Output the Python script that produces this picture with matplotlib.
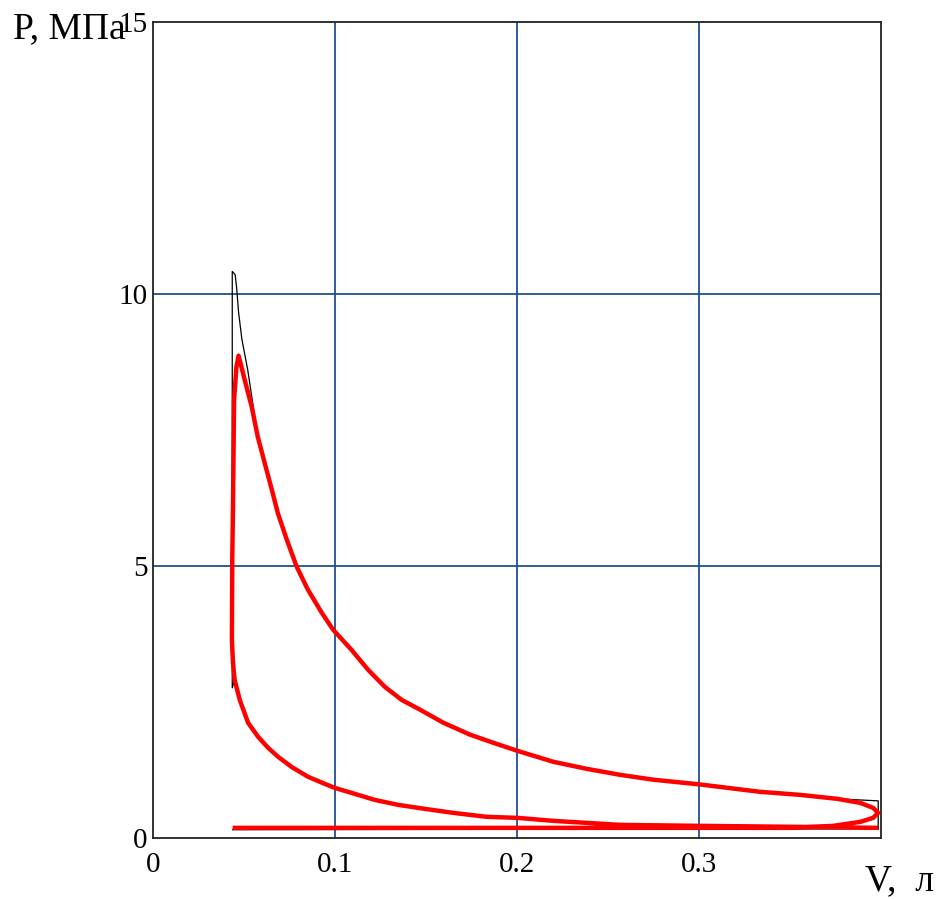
import matplotlib
matplotlib.use("Agg")
import matplotlib.pyplot as plt
import numpy as np

# compression stroke, read right to left (V in litres, P in MPa)
comp_v = [0.3557, 0.3007, 0.2567, 0.2384, 0.2200, 0.2004, 0.1834, 0.1650,
          0.1494, 0.1348, 0.1219, 0.1091, 0.0999, 0.0944, 0.0853, 0.0761,
          0.0688, 0.0633, 0.0578, 0.0523, 0.0477, 0.0449]
comp_p = [0.202, 0.221, 0.239, 0.276, 0.313, 0.368, 0.387, 0.460,
          0.534, 0.607, 0.699, 0.828, 0.920, 0.994, 1.123, 1.307,
          1.491, 1.657, 1.859, 2.117, 2.540, 2.908]

# expansion stroke, left to right
exp_v = [0.0576, 0.0614, 0.0653, 0.0686, 0.0735, 0.0790, 0.0851, 0.0928,
         0.0990, 0.1091, 0.1183, 0.1274, 0.1366, 0.1467, 0.1595, 0.1742,
         0.1870, 0.2004, 0.2200, 0.2384, 0.2567, 0.2750, 0.3000, 0.3337,
         0.3557, 0.3761]
exp_p = [7.38, 6.90, 6.41, 5.98, 5.49, 4.99, 4.57, 4.14,
         3.83, 3.46, 3.09, 2.78, 2.54, 2.36, 2.12, 1.90,
         1.75, 1.60, 1.40, 1.27, 1.16, 1.07, 0.985, 0.847,
         0.791, 0.718]

# measured cycle: combustion peak and rounded exhaust opening
ind_start = [(0.3986, 0.184)]
ind_peak = [(0.0440, 3.221), (0.0434, 3.644), (0.0436, 5.12), (0.0440, 6.09),
            (0.0446, 8.06), (0.0459, 8.67), (0.0471, 8.87), (0.0504, 8.43),
            (0.0543, 7.93)]
ind_tail = [(0.3887, 0.644), (0.3958, 0.552), (0.3986, 0.460), (0.3958, 0.368),
            (0.3887, 0.294), (0.3739, 0.221), (0.3518, 0.184), (0.0438, 0.184)]

# calculated cycle: constant-volume combustion, sharp exhaust step
calc_start = [(0.3986, 0.166)]
calc_peak = [(0.0436, 2.76), (0.0436, 10.42), (0.0452, 10.36), (0.0460, 10.12),
             (0.0471, 9.66), (0.0489, 9.17), (0.0521, 8.61)]
calc_tail = [(0.3986, 0.681), (0.3986, 0.166), (0.0438, 0.150)]


def build(start, peak, tail):
    pts = list(start) + list(zip(comp_v, comp_p)) + list(peak) \
        + list(zip(exp_v, exp_p)) + list(tail)
    arr = np.array(pts)
    return arr[:, 0], arr[:, 1]


plt.rcParams["font.family"] = ["Liberation Serif", "DejaVu Serif"]

fig = plt.figure(figsize=(9.44, 8.99), dpi=100)
ax = fig.add_axes([0.162, 0.068, 0.771, 0.907])

cv, cp = build(calc_start, calc_peak, calc_tail)
iv, ip = build(ind_start, ind_peak, ind_tail)
ax.plot(cv, cp, color="black", linewidth=0.9, zorder=3)
ax.plot(iv, ip, color="#ff0000", linewidth=3.2, zorder=4,
        solid_joinstyle="round", solid_capstyle="butt")

ax.set_xlim(0, 0.4)
ax.set_ylim(0, 15)
ax.set_xticks([0, 0.1, 0.2, 0.3])
ax.set_xticklabels(["0", "0.1", "0.2", "0.3"])
ax.set_yticks([0, 5, 10, 15])
ax.set_yticklabels(["0", "5", "10", "15"])
ax.tick_params(length=0, labelsize=21)
ax.tick_params(axis="y", pad=4)
ax.tick_params(axis="x", pad=10)

for x in (0.1, 0.2, 0.3):
    ax.axvline(x, color="#1c5094", linewidth=1.3, zorder=1)
for y in (5, 10):
    ax.axhline(y, color="#1c5094", linewidth=1.3, zorder=1)

for sp in ax.spines.values():
    sp.set_color("#222222")
    sp.set_linewidth(1.3)

fig.text(13 / 944, 1 - 38 / 899, "P, МПа", fontsize=27, ha="left", va="baseline")
fig.text(865 / 944, 1 - 890 / 899, "V,  л", fontsize=27, ha="left", va="baseline")

fig.savefig("out.png", dpi=100)
